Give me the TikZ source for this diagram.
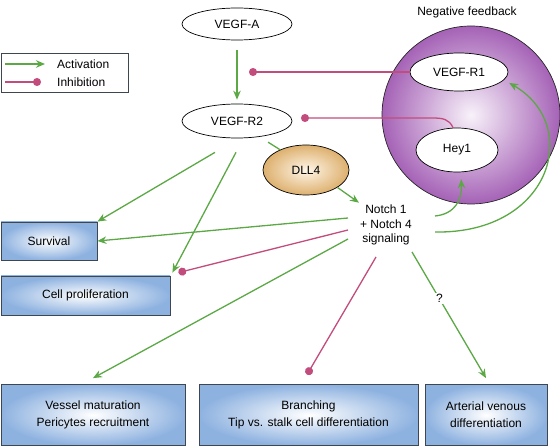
\documentclass[tikz,border=0pt]{standalone}
\usepackage{fontspec}
\setmainfont{Liberation Sans}
\usetikzlibrary{arrows.meta,shapes.geometric}
\definecolor{actg}{HTML}{5BA845}
\definecolor{inhr}{HTML}{C24C7C}
\definecolor{boxblue}{HTML}{8EB2E0}
\definecolor{boxline}{HTML}{3E4650}
\definecolor{circpur}{HTML}{A562B6}
\definecolor{circin}{HTML}{F8F2FA}
\definecolor{dllout}{HTML}{DDB06E}
\definecolor{dllin}{HTML}{FFF6E8}
\begin{document}
\begin{tikzpicture}[x=1pt,y=-1pt,
  every node/.style={font=\fontsize{12}{14.5}\selectfont},
  act/.style={draw=actg, line width=1.3pt, -{Stealth[length=9pt,width=7.5pt]}},
  actline/.style={draw=actg, line width=1.3pt},
  inh/.style={draw=inhr, line width=1.3pt, -{Circle[length=8pt]}},
  oval/.style={ellipse, draw=black, line width=0.7pt, fill=white, inner sep=0pt},
  bluebox/.style={rectangle, draw=boxline, line width=0.8pt, inner color=white, outer color=boxblue, align=center, inner sep=0pt},
  tallbox/.style={bluebox, minimum height=61pt, font=\fontsize{12}{17}\selectfont}
]
\useasboundingbox (0,0) rectangle (560,446);
% feedback circle
\node[circle, draw=black!85, line width=0.7pt, inner color=circin, outer color=circpur, minimum size=178pt, inner sep=0pt] (fb) at (471,115) {};
\node (nf) at (467,12) {Negative feedback};
% ovals
\node[oval, minimum width=110pt, minimum height=32pt] (vegfa) at (237,24) {VEGF-A};
\node[oval, minimum width=110pt, minimum height=34pt] (vegfr2) at (237,121) {VEGF-R2};
\node[oval, minimum width=98pt, minimum height=38pt] (vegfr1) at (459,72) {VEGF-R1};
\node[oval, minimum width=82pt, minimum height=44pt] (hey1) at (457,150) {Hey1};
\node[ellipse, draw=black, line width=0.7pt, inner color=dllin, outer color=dllout, minimum width=86pt, minimum height=50pt, inner sep=0pt] (dll4) at (306,170) {DLL4};
\node[align=center, inner sep=0pt] (notch) at (386,225) {Notch 1\\+ Notch 4\\signaling};
% legend
\node[draw=boxline, line width=0.8pt, minimum width=127pt, minimum height=39pt, inner sep=0pt, anchor=north west] (legend) at (0.5,53) {};
\node[anchor=west, inner sep=0pt] (lact) at (57,64) {Activation};
\node[anchor=west, inner sep=0pt] (linh) at (57,82) {Inhibition};
\draw[act] ([xshift=-52pt]lact.west) -- ([xshift=-12pt]lact.west);
\draw[inh] ([xshift=-52pt]linh.west) -- ([xshift=-16pt]linh.west);
% outcome boxes
\node[bluebox, minimum width=96pt, minimum height=38pt] (surv) at (49,241) {Survival};
\node[bluebox, minimum width=169pt, minimum height=39pt] (cell) at (85.5,295.5) {Cell proliferation};
\node[tallbox, minimum width=184pt] (vessel) at (93,415) {Vessel maturation\\Pericytes recruitment};
\node[tallbox, minimum width=219pt] (branch) at (308.5,415) {Branching\\Tip vs. stalk cell differentiation};
\node[tallbox, minimum width=122pt] (arter) at (486,415) {Arterial venous\\differentiation};
% connectors
\coordinate (r1dot) at (249,72);
\coordinate (h1dot) at (301,118);
\draw[act, shorten <=10pt, shorten >=4pt] (vegfa.south) -- (vegfr2.north);
\draw[inh] (vegfr1.west) -- (r1dot);
\draw[inh] (hey1.100) .. controls (449,119) and (443,118) .. (432,118) -- (h1dot);
\draw[actline, shorten <=10pt] (vegfr2.-35) -- (dll4.142);
\draw[act] (dll4.-29) -- ([shift={(-1pt,2pt)}]notch.north west);
\draw[act] ([shift={(-22pt,-14pt)}]vegfr2.south) -- (surv.north east);
\draw[act] ([shift={(-1pt,-14pt)}]vegfr2.south) -- ([shift={(2pt,3pt)}]cell.north east);
\draw[act] ([shift={(-38pt,7pt)}]notch.center) -- (surv.east);
\draw[inh] ([shift={(-38pt,-5pt)}]notch.center) -- ([shift={(8pt,3pt)}]cell.north east);
\draw[act] ([shift={(-38pt,-14pt)}]notch.center) -- ([yshift=6pt]vessel.north);
\draw[inh] ([shift={(-10pt,-32pt)}]notch.center) -- ([shift={(-1.5pt,9.5pt)}]branch.north);
\draw[act] ([shift={(26pt,-27pt)}]notch.center) -- node[pos=0.37, fill=white, inner sep=1.5pt] (q) {?} ([yshift=6pt]arter.north);
\draw[act, shorten >=7pt] ([shift={(49pt,9pt)}]notch.center) .. controls (455,214) and (462,200) .. (hey1.-80);
\draw[act, shorten >=6pt] ([shift={(49pt,-7pt)}]notch.center) .. controls (552,234) and (582,125) .. (vegfr1.-10);
\end{tikzpicture}
\end{document}
